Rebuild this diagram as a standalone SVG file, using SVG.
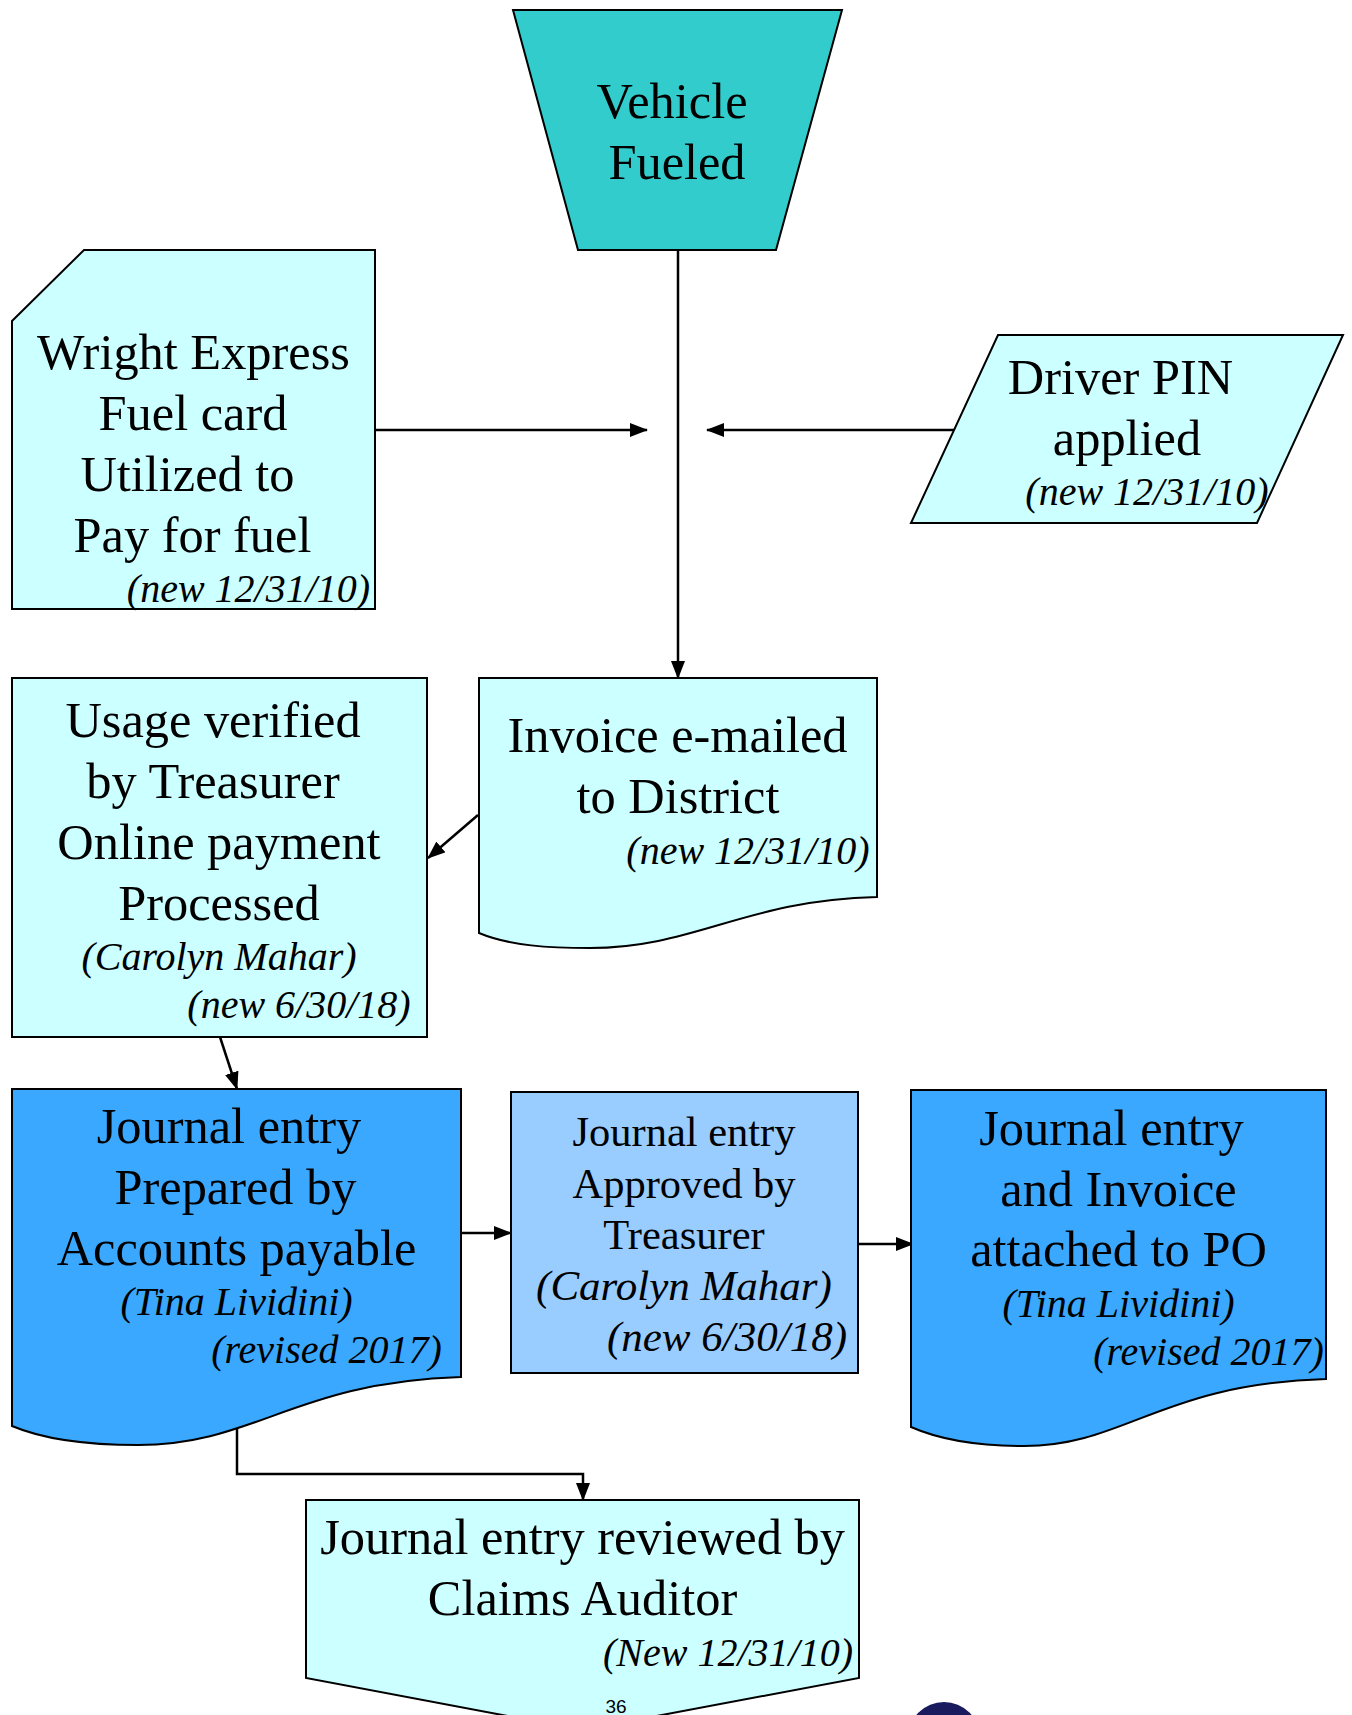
<svg xmlns="http://www.w3.org/2000/svg" width="1352" height="1715" viewBox="0 0 1352 1715">
<style>
.s{stroke:#000;stroke-width:2;stroke-linejoin:miter}
.lt{fill:#ccffff}.bl{fill:#3aa8ff}.pb{fill:#99ccff}.tl{fill:#33cccc}
text{font-family:"Liberation Serif","Times New Roman",serif;fill:#000}
.t{font-size:50.4px;text-anchor:middle}
.m{font-size:42.5px;text-anchor:middle}
.i{font-size:40px;font-style:italic;text-anchor:middle}
.j{font-size:43px;font-style:italic;text-anchor:middle}
.c{fill:none;stroke:#000;stroke-width:2.5}
</style>
<defs><marker id="a" markerUnits="userSpaceOnUse" markerWidth="18" markerHeight="14" refX="17" refY="7" orient="auto"><path d="M0 0L18 7L0 14Z" fill="#000"/></marker></defs>
<rect width="1352" height="1715" fill="#fff"/>
<g id="connectors">
<path class="c" d="M678 250V678" marker-end="url(#a)"/>
<path class="c" d="M375 430H647" marker-end="url(#a)"/>
<path class="c" d="M955 430H707" marker-end="url(#a)"/>
<path class="c" d="M478 815L428 858" marker-end="url(#a)"/>
<path class="c" d="M220 1037L237 1089" marker-end="url(#a)"/>
<path class="c" d="M461 1233H511" marker-end="url(#a)"/>
<path class="c" d="M858 1244H913" marker-end="url(#a)"/>
<path class="c" d="M237 1429V1474H583V1500" marker-end="url(#a)"/>
</g>
<g id="vehicle"><path class="s tl" d="M513 10H842L776 250H578Z"/><text class="t" x="672" y="118">Vehicle</text><text class="t" x="677" y="179">Fueled</text></g>
<g id="wright"><path class="s lt" d="M12 321L84 250H375V609H12Z"/><text class="t" x="193.500" y="369">Wright Express</text><text class="t" x="193" y="430">Fuel card</text><text class="t" x="187.500" y="491">Utilized to</text><text class="t" x="192.500" y="552">Pay for fuel</text><text class="i" x="248.500" y="602">(new 12/31/10)</text></g>
<g id="pin"><path class="s lt" d="M998 335H1343L1257 523H911Z"/><text class="t" x="1120.500" y="394">Driver PIN</text><text class="t" x="1127" y="455">applied</text><text class="i" x="1147" y="505">(new 12/31/10)</text></g>
<g id="invoice"><path class="s lt" d="M479 678H877V897C745 900 695 948 590 948C550 948 510 946 479 933Z"/><text class="t" x="677.500" y="752">Invoice e-mailed</text><text class="t" x="678" y="813">to District</text><text class="i" x="748" y="864">(new 12/31/10)</text></g>
<g id="usage"><path class="s lt" d="M12 678H427V1037H12Z"/><text class="t" x="213" y="737">Usage verified</text><text class="t" x="213" y="798">by Treasurer</text><text class="t" x="219" y="859">Online payment</text><text class="t" x="219" y="920">Processed</text><text class="i" x="219" y="970">(Carolyn Mahar)</text><text class="i" x="299" y="1018">(new 6/30/18)</text></g>
<g id="prepared"><path class="s bl" d="M12 1089H461V1377C295 1382 255 1445 138 1445C90 1445 45 1440 12 1426Z"/><text class="t" x="229" y="1143">Journal entry</text><text class="t" x="235.500" y="1204">Prepared by</text><text class="t" x="236.500" y="1265">Accounts payable</text><text class="i" x="236.500" y="1315">(Tina Lividini)</text><text class="i" x="326.500" y="1363">(revised 2017)</text></g>
<g id="approved"><path class="s pb" d="M511 1092H858V1373H511Z"/><text class="m" x="684" y="1146">Journal entry</text><text class="m" x="684" y="1198">Approved by</text><text class="m" x="684" y="1249">Treasurer</text><text class="j" x="684" y="1300">(Carolyn Mahar)</text><text class="j" x="727" y="1351">(new 6/30/18)</text></g>
<g id="attached"><path class="s bl" d="M911 1090H1326V1379C1160 1384 1125 1446 1024 1446C985 1446 945 1442 911 1427Z"/><text class="t" x="1111.500" y="1145">Journal entry</text><text class="t" x="1118.500" y="1206">and Invoice</text><text class="t" x="1118.500" y="1266">attached to PO</text><text class="i" x="1118.500" y="1317">(Tina Lividini)</text><text class="i" x="1208.500" y="1365">(revised 2017)</text></g>
<g id="review"><path class="s lt" d="M306 1500H859V1678L582 1730L306 1678Z"/><text class="t" x="582.500" y="1554">Journal entry reviewed by</text><text class="t" x="582.500" y="1615">Claims Auditor</text><text class="i" x="728" y="1666">(New 12/31/10)</text></g>
<text id="page" x="616" y="1713" font-size="19" text-anchor="middle" style="font-family:'Liberation Sans',Arial,sans-serif">36</text>
<circle id="logo" cx="944" cy="1738" r="36" fill="#1a1a5e"/>
</svg>
